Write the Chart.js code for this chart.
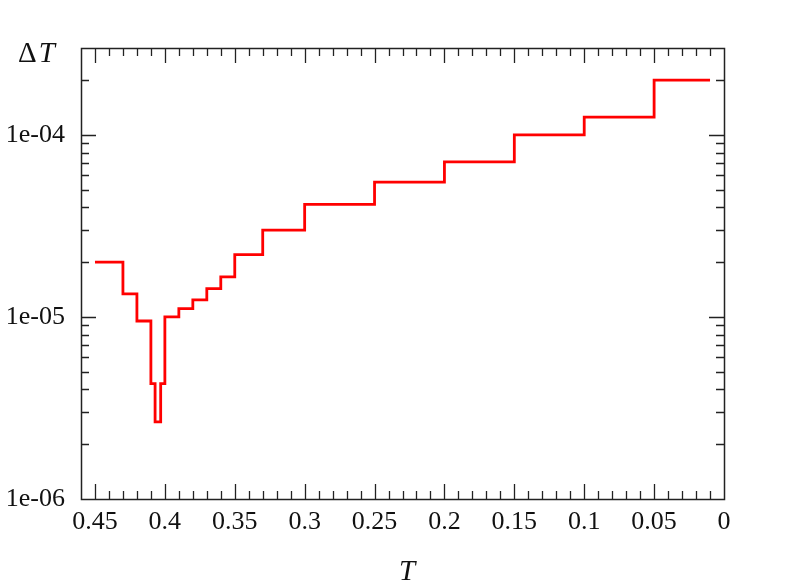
<!DOCTYPE html>
<html>
<head>
<meta charset="utf-8">
<script src="https://cdn.jsdelivr.net/npm/chart.js@4/dist/chart.umd.min.js"></script>
<style>
  html, body { margin: 0; padding: 0; background: #fff; }
  #c { display: block; }
</style>
</head>
<body>
<canvas id="c" width="789" height="587"></canvas>
<script>
// step positions (T) and the Delta T value held from each T to the next one
const tValues = [0.45, 0.43, 0.42, 0.41, 0.407, 0.403, 0.40, 0.39, 0.38, 0.37, 0.36, 0.35, 0.33, 0.30, 0.25, 0.20, 0.15, 0.10, 0.05, 0.01];
const dTValues = [2.0e-5, 1.34e-5, 9.5e-6, 4.3e-6, 2.65e-6, 4.3e-6, 1.0e-5, 1.11e-5, 1.24e-5, 1.43e-5, 1.66e-5, 2.2e-5, 3.0e-5, 4.15e-5, 5.5e-5, 7.1e-5, 1.0e-4, 1.25e-4, 2.0e-4, 2.0e-4];

const xMajorTicks = [0.45, 0.4, 0.35, 0.3, 0.25, 0.2, 0.15, 0.1, 0.05, 0];
const yMajorTicks = [1e-6, 1e-5, 1e-4];
const xRange = [0, 0.46];
const yRange = [1e-6, 3e-4];

const FONT = "'Liberation Serif', 'DejaVu Serif', serif";
const FSIZE = 26;
const TITLE_SIZE = 29;

// inward ticks on all four sides + frame, gnuplot style
const frameTicks = {
    id: 'frameTicks',
    afterDraw(chart) {
        const ctx = chart.ctx, a = chart.chartArea;
        const x = chart.scales.x, y = chart.scales.y;
        ctx.save();
        ctx.strokeStyle = '#222';
        ctx.lineWidth = 1.3;
        ctx.beginPath();

        for (let i = 0; i <= 46; i++) {
            const v = i / 100;
            const px = Math.round(x.getPixelForValue(v)) + 0.5;
            const len = (i % 5 === 0) ? 15 : 8;
            if (px < a.left + 1 || px > a.right - 1) continue;
            ctx.moveTo(px, a.bottom); ctx.lineTo(px, a.bottom - len);
            ctx.moveTo(px, a.top); ctx.lineTo(px, a.top + len);
        }

        for (let e = -6; e <= -4; e++) {
            for (let m = 1; m <= 9; m++) {
                const v = m * Math.pow(10, e);
                if (v > yRange[1] * 1.0001) break;
                const py = Math.round(y.getPixelForValue(v)) + 0.5;
                if (py < a.top + 1 || py > a.bottom - 1) continue;
                const len = (m === 1) ? 15 : 8;
                ctx.moveTo(a.left, py); ctx.lineTo(a.left + len, py);
                ctx.moveTo(a.right, py); ctx.lineTo(a.right - len, py);
            }
        }
        ctx.stroke();

        ctx.lineWidth = 1.5;
        ctx.strokeRect(Math.round(a.left) + 0.5, Math.round(a.top) + 0.5,
            Math.round(a.right - a.left), Math.round(a.bottom - a.top));

        // axis titles
        ctx.fillStyle = '#111';
        ctx.textBaseline = 'alphabetic';
        ctx.font = TITLE_SIZE + 'px ' + FONT;
        ctx.fillText('\u0394', 18, 62);
        const dw = ctx.measureText('\u0394').width;
        ctx.font = 'italic ' + TITLE_SIZE + 'px ' + FONT;
        ctx.fillText('T', 18 + dw + 2, 62);

        ctx.textAlign = 'center';
        ctx.fillText('T', 407, 580);
        ctx.restore();
    }
};

const chart = new Chart(document.getElementById('c'), {
    type: 'line',
    data: {
        labels: tValues,
        datasets: [{
            label: 'dT',
            data: tValues.map((t, i) => ({ x: t, y: dTValues[i] })),
            borderColor: '#ff0000',
            borderWidth: 2.8,
            pointRadius: 0,
            stepped: true,
            fill: false
        }]
    },
    options: {
        responsive: false,
        animation: false,
        devicePixelRatio: 1,
        layout: { padding: { left: 0, right: 65, top: 48, bottom: 0 } },
        plugins: { legend: { display: false }, tooltip: { enabled: false } },
        scales: {
            x: {
                type: 'linear',
                reverse: true,
                min: xRange[0], max: xRange[1],
                grid: { display: false, drawTicks: false },
                border: { display: false },
                afterBuildTicks: s => { s.ticks = xMajorTicks.map(v => ({ value: v })); },
                afterFit: s => { s.height = 88; },
                ticks: {
                    padding: 8,
                    color: '#111',
                    font: { family: FONT, size: FSIZE },
                    maxRotation: 0,
                    autoSkip: false,
                    callback: v => String(Math.round(v * 100) / 100)
                }
            },
            y: {
                type: 'logarithmic',
                min: yRange[0], max: yRange[1],
                grid: { display: false, drawTicks: false },
                border: { display: false },
                afterBuildTicks: s => { s.ticks = yMajorTicks.map(v => ({ value: v })); },
                afterFit: s => { s.width = 81; },
                ticks: {
                    padding: 16,
                    color: '#111',
                    font: { family: FONT, size: FSIZE },
                    autoSkip: false,
                    callback: v => '1e-0' + (-Math.round(Math.log10(v)))
                }
            }
        }
    },
    plugins: [frameTicks]
});
</script>
</body>
</html>
